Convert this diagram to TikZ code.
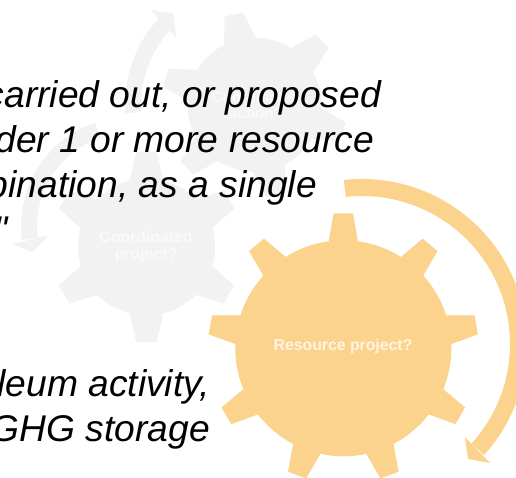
\documentclass[tikz,border=0pt]{standalone}
\usepackage{fontspec}
\setmainfont{Liberation Sans}
\newfontface\plainital{Liberation Sans Italic}
\definecolor{gearGray}{HTML}{F2F2F2}
\definecolor{gearOrange}{HTML}{FBD38D}
\definecolor{labelGray}{HTML}{FAFAFA}
\definecolor{labelOrange}{HTML}{FFF4E4}
% cx cy r tip tiphalf basehalf angles unused colour
\newcommand{\gearshape}[9]{%
  \begin{scope}[shift={(#1,#2)}]
    \fill[#9] (0,0) circle[radius=#3];
    \foreach \ang in {#7} {
      \fill[#9,rotate=\ang] (#3-2,#6) -- (#4,#5) -- (#4,-#5) -- (#3-2,-#6) -- cycle;
    }
  \end{scope}}
% cx cy r1 r2 a1 a2 colour
\newcommand{\ringarc}[7]{%
  \fill[#7,shift={(#1,#2)}] (#5:#4) arc[start angle=#5,end angle=#6,radius=#4] -- (#6:#3) arc[start angle=#6,end angle=#5,radius=#3] -- cycle;}
\tikzset{
  bodytext/.style={anchor=base east,inner sep=0pt,font=\fontsize{37.2}{37.2}\selectfont\itshape,text=black},
  geartext/.style={align=center,inner sep=0pt,font=\fontsize{#1}{16.5}\selectfont\bfseries},
}
\begin{document}
\begin{tikzpicture}[x=1pt,y=1pt]
\useasboundingbox (0,0) rectangle (516,477);
\clip (0,0) rectangle (516,477);
\fill[white] (0,0) rectangle (516,477);
% grey arrows
\ringarc{253}{372}{112}{128}{183.6}{136.6}{gearGray}
\fill[gearGray] (151,467) -- (173,464) -- (176,440) -- cycle;
\ringarc{130}{251}{93}{109}{108.8}{187.4}{gearGray}
\fill[gearGray] (13,233) -- (32,225) -- (49,242) -- cycle;
% grey gears
\gearshape{254.5}{372.4}{67}{92.5}{9.4}{16.3}{103,163,223,283,343,43}{0}{gearGray}
\node[geartext=15,text=labelGray] (actionlabel) at (256,372) {Coordinated\\action?};
\gearshape{146.5}{230}{68.5}{95}{10.3}{16.7}{30,90,150,210,270,330}{0}{gearGray}
\node[geartext=15.8,text=labelGray] (projectlabel) at (146,230) {Coordinated\\project?};
% orange arrow
\ringarc{362}{133}{148}{165}{96.3}{-42.3}{gearOrange}
\fill[gearOrange] (465,40) -- (468,18) -- (490,14) -- cycle;
% orange gear
\gearshape{343.3}{128.7}{108}{135}{9.7}{14.7}{90,50,10,-30,-70,-110,-150,170,130}{0}{gearOrange}
\node[geartext=15.8,text=labelOrange] (resourcelabel) at (343,130.5) {Resource project?};
% body text
\node[bodytext] (t1) at (381,369) {carried out, or proposed};
\node[bodytext] (t2) at (374,324) {der 1 or more resource};
\node[bodytext] (t3) at (317,279) {bination, as a single};
\node[bodytext,font=\fontsize{37.2}{37.2}\selectfont\plainital] (t4) at (8,234) {"};
\node[bodytext] (t5) at (210,81) {leum activity,};
\node[bodytext] (t6) at (210,36) {GHG storage};
\end{tikzpicture}
\end{document}
